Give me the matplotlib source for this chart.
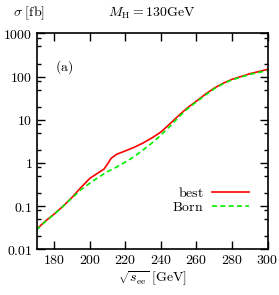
import numpy as np
import matplotlib
matplotlib.use("Agg")
import matplotlib.pyplot as plt
from matplotlib.ticker import FixedLocator, NullFormatter, LogLocator

plt.rcParams['mathtext.fontset'] = 'cm'
plt.rcParams['font.family'] = ['DejaVu Serif']

energy_best = [170, 175, 180, 185, 190, 195, 200, 205, 208, 210, 212, 215, 220, 225, 230, 235, 240, 245, 250, 255, 260, 265, 270, 275, 280, 290, 300]
sigma_best = [0.029, 0.045, 0.066, 0.10, 0.16, 0.27, 0.44, 0.60, 0.72, 0.95, 1.28, 1.58, 1.9, 2.3, 2.9, 3.8, 5.2, 8.0, 12.5, 19, 27, 39, 54, 70, 86, 116, 146]

energy_born = [170, 175, 180, 185, 190, 195, 200, 205, 210, 215, 220, 225, 230, 235, 240, 245, 250, 255, 260, 265, 270, 275, 280, 290, 300]
sigma_born = [0.028, 0.044, 0.065, 0.10, 0.155, 0.24, 0.34, 0.47, 0.63, 0.80, 1.05, 1.4, 2.0, 2.9, 4.4, 7.0, 11.5, 18, 26, 37, 52, 68, 84, 112, 138]

x_ticks = [180, 200, 220, 240, 260, 280, 300]
y_ticks = [0.01, 0.1, 1, 10, 100, 1000]
y_tick_labels = ['0.01', '0.1', '1', '10', '100', '1000']

fig = plt.figure(figsize=(2.79, 2.95), dpi=100)
ax = fig.add_axes([0.131, 0.155, 0.828, 0.732])

ax.plot(energy_best, sigma_best, color='#ff0000', lw=1.2, label=r'$\mathrm{best}$')
ax.plot(energy_born, sigma_born, color='#00ee00', lw=1.2, ls=(0, (3, 2)), label=r'$\mathrm{Born}$')

ax.set_yscale('log')
ax.set_xlim(170, 300)
ax.set_ylim(0.01, 1000)

ax.set_xticks(x_ticks)
ax.set_xticklabels([r'$\mathrm{%d}$' % v for v in x_ticks])
ax.set_yticks(y_ticks)
ax.set_yticklabels([r'$\mathrm{%s}$' % s for s in y_tick_labels])
ax.yaxis.set_minor_locator(LogLocator(base=10, subs=(2, 5, 8)))
ax.yaxis.set_minor_formatter(NullFormatter())
ax.xaxis.set_minor_locator(FixedLocator([]))

ax.tick_params(which='both', direction='in', top=True, right=True, labelsize=10, width=1.0)
ax.tick_params(which='major', length=6, pad=3)
ax.tick_params(which='minor', length=3)
for s in ax.spines.values():
    s.set_linewidth(1.2)

ax.text(185.5, 165, r'$\mathrm{(a)}$', fontsize=10, ha='center', va='center')

fig.text(0.545, 0.955, r'$M_{\mathrm{H}} = 130\mathrm{GeV}$', fontsize=10, ha='center', va='center')
fig.text(0.045, 0.955, r'$\sigma\ \mathrm{[fb]}$', fontsize=10, ha='left', va='center')
ax.set_xlabel(r'$\sqrt{s_{\mathrm{ee}}}\ \mathrm{[GeV]}$', fontsize=10, labelpad=2)

leg = ax.legend(loc='lower right', bbox_to_anchor=(0.96, 0.12), frameon=False, markerfirst=False,
                fontsize=10, handlelength=2.6, handletextpad=0.6, labelspacing=-0.05,
                borderpad=0.2)
for t in leg.get_texts():
    t.set_ha('right')

fig.savefig('out.png', dpi=100)
